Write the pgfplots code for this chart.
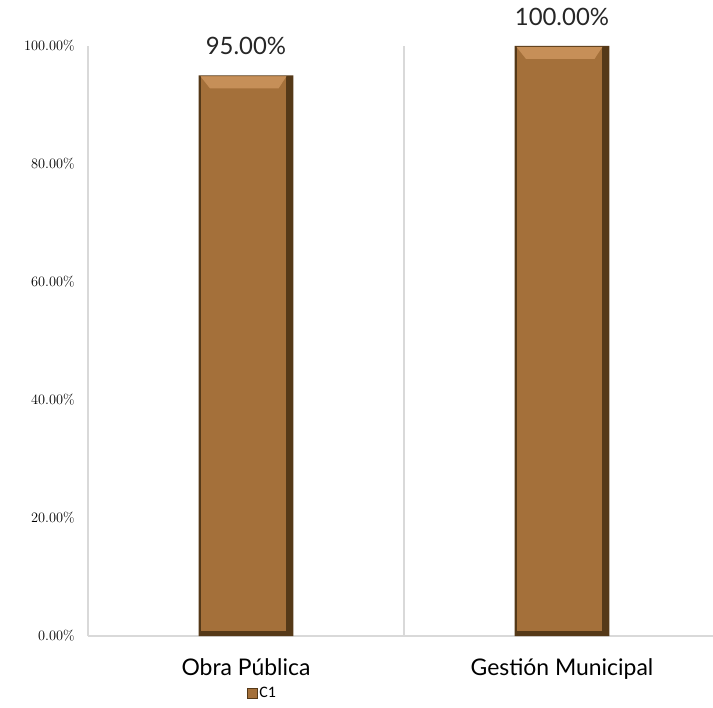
\documentclass[border=0pt]{standalone}
\usepackage{pgfplots}
\pgfplotsset{compat=1.18}
\usepackage{fontspec}
\newfontfamily\lato{Lato}
\newfontfamily\carlito{Carlito}
\definecolor{barmain}{HTML}{A4703A}
\definecolor{bardark}{HTML}{553918}
\definecolor{barlight}{HTML}{C68F58}
\definecolor{gridgray}{HTML}{D9D9D9}
\begin{document}
\begin{tikzpicture}
\useasboundingbox (-88bp,-72bp) rectangle (625bp,636bp);
\begin{axis}[at={(0,0)}, anchor=south west, scale only axis,
  width=625bp, height=590bp,
  xmin=-0.5, xmax=1.478, ymin=0, ymax=100, clip=false,
  axis lines*=left, axis line style={gridgray, line width=1.2bp, -},
  xtick={0,1}, xticklabels={Obra Pública, Gestión Municipal},
  minor xtick={0.5}, xminorgrids=true,
  minor grid style={gridgray, line width=1.2bp},
  ytick={0,20,...,100}, major tick length=0, minor tick length=0,
  yticklabel={\pgfmathprintnumber[fixed,fixed zerofill,precision=2]{\tick}\%},
  yticklabel style={font=\fontsize{14}{16}\selectfont, xshift=-10bp},
  xticklabel style={font=\lato\fontsize{23}{27}\selectfont, yshift=-19bp},
  legend style={at={(0.279,-0.0975)}, anchor=center, draw=none, fill=none,
    font=\carlito\fontsize{16}{18}\selectfont, inner sep=0pt,
    /tikz/every even column/.append style={column sep=2bp}},
  legend image code/.code={\fill[barmain, draw=bardark, line width=0.6bp] (0bp,-5bp) rectangle (10bp,5bp);},
]
\addplot[ybar, bar width=0.30, bar shift=0pt, fill=bardark, draw=none,
  nodes near coords={\pgfmathprintnumber[fixed,fixed zerofill,precision=2,assume math mode=true]{\pgfplotspointmeta}\%},
  nodes near coords style={font=\lato\fontsize{24}{28}\selectfont, text=black!85, yshift=17bp}]
  coordinates {(0,95) (1,100)};
\addlegendentry{C1}
\addplot[fill=barmain, draw=none, forget plot] coordinates {(-0.1437,0.85) (0.1278,0.85) (0.1278,94.83) (-0.1437,94.83)} -- cycle;
\addplot[fill=barmain, draw=none, forget plot] coordinates {(0.8563,0.85) (1.1278,0.85) (1.1278,99.83) (0.8563,99.83)} -- cycle;
\addplot[fill=barlight, draw=none, forget plot] coordinates {(-0.1437,94.83) (0.1278,94.83) (0.1028,92.8) (-0.1137,92.8)} -- cycle;
\addplot[fill=barlight, draw=none, forget plot] coordinates {(0.8563,99.83) (1.1278,99.83) (1.1028,97.8) (0.8863,97.8)} -- cycle;
\end{axis}
\end{tikzpicture}
\end{document}
